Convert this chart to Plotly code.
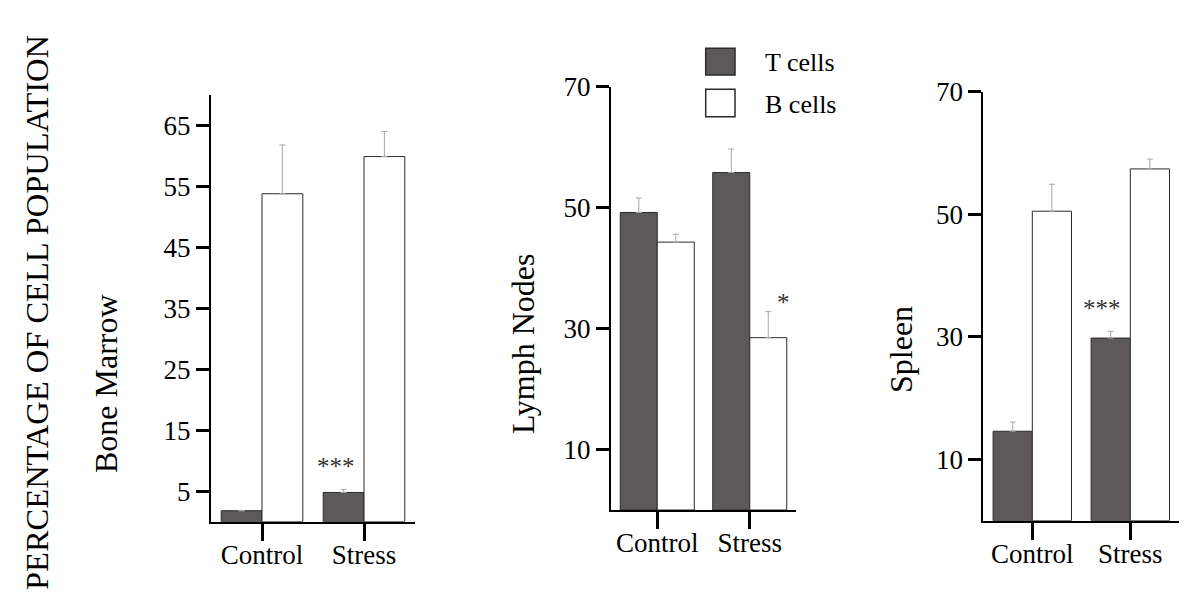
import plotly.graph_objects as go

# page has an 8px body margin; the figure is sized to fit the 1194x600 window
OFF = 8
W, H = 1194 - OFF, 600 - OFF

categories = ["Control", "Stress"]
panels = ["Bone Marrow", "Lymph Nodes", "Spleen"]

bm_t = [1.8, 4.8]
bm_t_err = [None, 0.5]
bm_b = [53.8, 59.9]
bm_b_err = [8.0, 4.1]

ln_t = [49.2, 55.8]
ln_t_err = [2.4, 3.9]
ln_b = [44.3, 28.5]
ln_b_err = [1.3, 4.3]

sp_t = [14.6, 29.8]
sp_t_err = [1.5, 1.1]
sp_b = [50.5, 57.4]
sp_b_err = [4.4, 1.6]

bm_ticks = [5, 15, 25, 35, 45, 55, 65]
ln_ticks = [10, 30, 50, 70]
sp_ticks = [10, 30, 50, 70]

FONT = "Liberation Serif"
DARK = "#5d595b"

def px(x):
    return (x - OFF) / W

def py(y):
    return 1 - (y - OFF) / H

fig = go.Figure()

data = [
    (bm_t, bm_t_err, bm_b, bm_b_err, bm_ticks),
    (ln_t, ln_t_err, ln_b, ln_b_err, ln_ticks),
    (sp_t, sp_t_err, sp_b, sp_b_err, sp_ticks),
]
# screen-pixel boxes of plot areas (left, right, top, bottom)
boxes = [(211, 415, 95, 521.7), (611, 796, 86.7, 510), (983.3, 1179.3, 91.7, 520.7)]

for i, (t, te, b, be, ticks) in enumerate(data):
    n = "" if i == 0 else str(i + 1)
    xa, ya = "x" + n, "y" + n
    fig.add_trace(go.Bar(
        x=categories, y=t, name="T cells", xaxis=xa, yaxis=ya,
        marker=dict(color=DARK, line=dict(color="#2a2a2a", width=1)),
        error_y=dict(type="data", symmetric=False, array=te, arrayminus=[0, 0],
                     color="#a8a8a8", thickness=1, width=3),
        showlegend=False))
    fig.add_trace(go.Bar(
        x=categories, y=b, name="B cells", xaxis=xa, yaxis=ya,
        marker=dict(color="white", line=dict(color="#2a2a2a", width=1)),
        error_y=dict(type="data", symmetric=False, array=be, arrayminus=[0, 0],
                     color="#a8a8a8", thickness=1, width=3),
        showlegend=False))
    l, r, tp, bt = boxes[i]
    fig.update_layout(**{
        "xaxis" + n: dict(domain=[px(l), px(r)], anchor=ya, showline=True, linecolor="black",
                          linewidth=2, ticks="outside", ticklen=17, tickwidth=3, tickcolor="black",
                          tickfont=dict(family=FONT, size=27, color="black"), showgrid=False,
                          range=[-0.5, 1.5], fixedrange=True, automargin=False,
                          ticklabelstandoff=-9),
        "yaxis" + n: dict(domain=[py(bt), py(tp)], anchor=xa, range=[0, 70], showline=True,
                          linecolor="black", linewidth=2, ticks="outside", ticklen=13, tickwidth=3,
                          tickcolor="black", tickvals=ticks, showgrid=False, zeroline=False,
                          tickfont=dict(family=FONT, size=27, color="black"), fixedrange=True,
                          automargin=False),
    })

ann = []
# significance markers
ann.append(dict(x=0.73, y=9.9, xref="x", yref="y", text="***", showarrow=False,
                font=dict(family=FONT, size=25, color="#333"), yshift=-5))
ann.append(dict(x=1.37, y=35.2, xref="x2", yref="y2", text="*", showarrow=False,
                font=dict(family=FONT, size=25, color="#333"), yshift=-5))
ann.append(dict(x=0.714, y=35.5, xref="x3", yref="y3", text="***", showarrow=False,
                font=dict(family=FONT, size=25, color="#333"), yshift=-5))

# axis titles as rotated annotations
for label, cx, cy in [("Bone Marrow", 106, 383), ("Lymph Nodes", 523, 344), ("Spleen", 901, 350)]:
    ann.append(dict(x=px(cx), y=py(cy), xref="paper", yref="paper", text=label, textangle=-90,
                    showarrow=False, font=dict(family=FONT, size=32, color="black"),
                    xanchor="center", yanchor="middle"))
ann.append(dict(x=px(37), y=py(313), xref="paper", yref="paper", text="PERCENTAGE OF CELL POPULATION",
                textangle=-90, showarrow=False, font=dict(family=FONT, size=32.5, color="black"),
                xanchor="center", yanchor="middle"))

# legend
shapes = []
for name, fill, y0, y1, ty in [("T cells", DARK, 48.3, 75, 62), ("B cells", "white", 89.3, 116.7, 104)]:
    shapes.append(dict(type="rect", xref="paper", yref="paper", x0=px(705.7), x1=px(735),
                       y0=py(y1), y1=py(y0), fillcolor=fill, line=dict(color="#2a2a2a", width=1.5)))
    ann.append(dict(x=px(763), y=py(ty), xref="paper", yref="paper", text=name, showarrow=False,
                    xanchor="left", yanchor="middle", font=dict(family=FONT, size=26, color="black")))

fig.update_layout(
    width=W, height=H, autosize=False,
    margin=dict(l=0, r=0, t=0, b=0, autoexpand=False),
    paper_bgcolor="white", plot_bgcolor="white",
    barmode="group", bargap=0.2, bargroupgap=0,
    annotations=ann, shapes=shapes, showlegend=False,
    font=dict(family=FONT),
)

fig.write_html("out.html")
